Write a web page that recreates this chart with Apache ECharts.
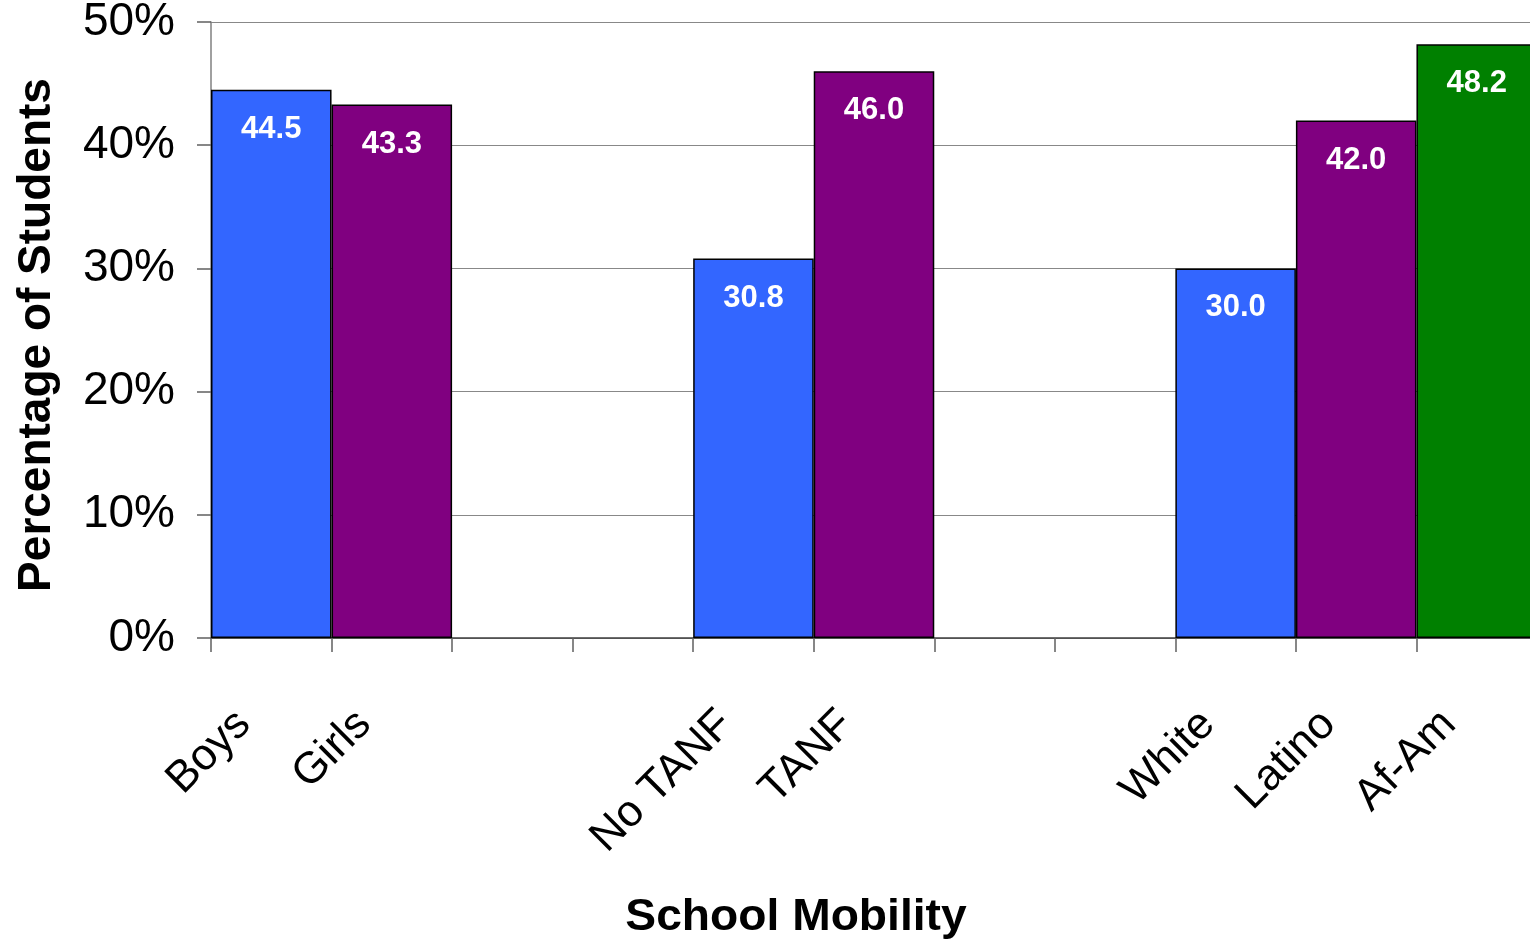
<!DOCTYPE html>
<html>
<head>
<meta charset="utf-8">
<script src="https://cdn.jsdelivr.net/npm/echarts@6/dist/echarts.min.js"></script>
<style>
html,body{margin:0;padding:0;background:#fff;overflow:hidden;}
#chart{width:1530px;height:948px;}
</style>
</head>
<body>
<div id="chart"></div>
<script>
var categories = ['Boys', 'Girls', ' ', '  ', 'No TANF', 'TANF', '   ', '    ', 'White', 'Latino', 'Af-Am'];
var values = [44.5, 43.3, null, null, 30.8, 46.0, null, null, 30.0, 42.0, 48.2];
var barColors = ['#3366FF', '#800080', '#3366FF', '#800080', '#3366FF', '#800080', '#3366FF', '#800080', '#3366FF', '#800080', '#008000'];
var yTicks = { min: 0, max: 50, interval: 10 };
var yTitle = 'Percentage of Students';
var xTitle = 'School Mobility';

var FONT = '"Liberation Sans", Arial, sans-serif';
var chart = echarts.init(document.getElementById('chart'), null, { renderer: 'canvas' });

var seriesData = values.map(function (v, i) {
  return { value: v, itemStyle: { color: barColors[i] } };
});

chart.setOption({
  animation: false,
  backgroundColor: '#ffffff',
  grid: { left: 211, width: 1326, top: 22, bottom: 310, containLabel: false, outerBoundsMode: 'none' },
  graphic: [{
    type: 'text',
    x: 796,
    y: 918,
    scaleX: 1.05,
    style: {
      text: xTitle,
      font: 'bold 44px ' + FONT,
      fill: '#000',
      align: 'center',
      verticalAlign: 'middle'
    }
  }],
  xAxis: {
    type: 'category',
    data: categories,
    boundaryGap: true,
    axisLine: { show: true, lineStyle: { color: '#404040', width: 1.5 } },
    axisTick: { show: true, alignWithLabel: false, interval: 0, length: 14, inside: false, lineStyle: { color: '#606060', width: 1.5 } },
    axisLabel: {
      interval: 0,
      rotate: 45,
      margin: 52,
      padding: [0, 39, 0, 0],
      color: '#000',
      fontFamily: FONT,
      fontSize: 44
    },
    splitLine: { show: false }
  },
  yAxis: {
    type: 'value',
    min: yTicks.min,
    max: yTicks.max,
    interval: yTicks.interval,
    name: yTitle,
    nameLocation: 'middle',
    nameGap: 151,
    nameTextStyle: { fontFamily: FONT, fontSize: 46, fontWeight: 'bold', color: '#000', padding: [0, 10, 0, 0] },
    axisLine: { show: true, lineStyle: { color: '#808080', width: 1.5 } },
    axisTick: { show: true, length: 14, inside: false, lineStyle: { color: '#606060', width: 1.5 } },
    axisLabel: {
      margin: 36,
      color: '#000',
      fontFamily: FONT,
      fontSize: 46,
      padding: [10, 0, 0, 0],
      formatter: '{value}%'
    },
    splitLine: { show: true, lineStyle: { color: '#888888', width: 1 } }
  },
  series: [{
    type: 'bar',
    data: seriesData,
    barCategoryGap: '0%',
    itemStyle: { borderColor: '#000', borderWidth: 1.5 },
    label: {
      show: true,
      position: 'insideTop',
      distance: 24,
      color: '#fff',
      fontFamily: FONT,
      fontSize: 31,
      fontWeight: 'bold',
      formatter: function (p) { return p.value == null ? '' : Number(p.value).toFixed(1); }
    }
  }]
});
</script>
</body>
</html>
